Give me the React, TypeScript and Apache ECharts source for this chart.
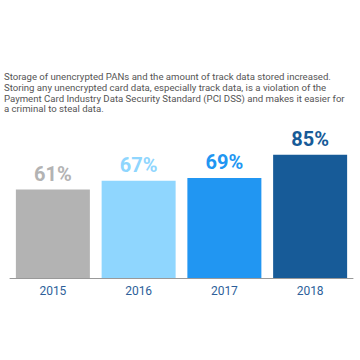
import React, { useEffect, useRef } from "react";
import * as echarts from "echarts";

const categories = ["2015", "2016", "2017", "2018"];
const values = [61, 67, 69, 85];
const barColors = ["#b3b3b3", "#8fd6fe", "#2196f2", "#175b98"];
const descriptionLines = [
  "Storage of unencrypted PANs and the amount of track data stored increased.",
  "Storing any unencrypted card data, especially track data, is a violation of the",
  "Payment Card Industry Data Security Standard (PCI DSS) and makes it easier for",
  "a criminal to steal data.",
];

export default function App() {
  const ref = useRef<HTMLDivElement>(null);
  useEffect(() => {
    if (!ref.current) return;
    const chart = echarts.init(ref.current, undefined, { renderer: "svg" });
    chart.setOption({
      animation: false,
      backgroundColor: "#ffffff",
      graphic: [
        {
          type: "text",
          left: 4,
          top: 71,
          style: {
            text: descriptionLines.join("\n"),
            fontSize: 9.6,
            lineHeight: 10.8,
            fontFamily: "Roboto",
            fill: "#555555",
          },
        },
      ],
      grid: { left: 10, right: 7, top: 133, bottom: 82 },
      xAxis: {
        type: "category",
        data: categories,
        axisTick: { show: false },
        axisLine: { show: true, lineStyle: { color: "#999999", width: 1 } },
        axisLabel: {
          color: "#2d5f9a",
          fontSize: 12,
          fontFamily: "Roboto",
          margin: 7,
        },
      },
      yAxis: {
        type: "value",
        min: 0,
        max: 100,
        show: false,
        splitLine: { show: false },
      },
      series: [
        {
          type: "bar",
          barWidth: 74,
          data: values.map((v, i) => ({
            value: v,
            itemStyle: { color: barColors[i] },
            label: { color: barColors[i] },
          })),
          label: {
            show: true,
            position: "top",
            formatter: "{c}%",
            fontSize: 20,
            fontWeight: "bold",
            fontFamily: "Roboto",
            distance: 6,
          },
        },
      ],
    });
    return () => chart.dispose();
  }, []);
  return <div ref={ref} style={{ width: 360, height: 360, position: "absolute", left: 0, top: 0 }} />;
}
